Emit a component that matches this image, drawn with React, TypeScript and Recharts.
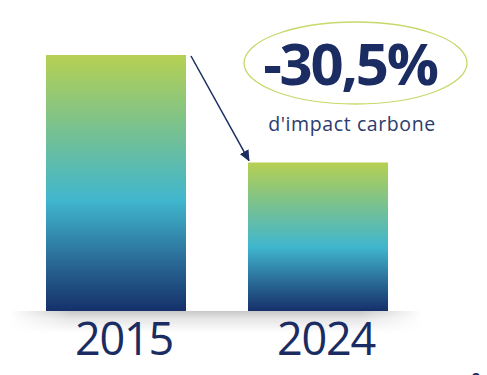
import React from 'react';
import { BarChart, Bar, XAxis, YAxis, ReferenceLine, Customized } from 'recharts';

const years = ['2015', '2024'];
const impact = [100, 58];
const reductionLabel = '-30,5%';
const subtitle = "d'impact carbone";

const data = years.map((y, i) => ({ year: y, value: impact[i] }));

const NAVY = '#1a2c62';
const BAR_SIZE = 140;

const Tick = (props: any) => {
  const { x, y, payload } = props;
  return (
    <text
      x={x + 8}
      y={y + 36}
      textAnchor="middle"
      fill={NAVY}
      fontFamily="'Open Sans', sans-serif"
      fontWeight={500}
      fontSize={45}
      letterSpacing={-1.2}
    >
      {payload.value}
    </text>
  );
};

const Arrow = (props: any) => {
  const { x1, y1, x2, y2 } = props;
  if ([x1, y1, x2, y2].some((v) => v === undefined || isNaN(v))) return null;
  const sx = x1 + BAR_SIZE / 2 + 5;
  const sy = y1 + 1;
  const ex = x2 - BAR_SIZE / 2 + 1;
  const ey = y2 - 2;
  return (
    <g>
      <defs>
        <marker id="arrowHead" markerWidth="11" markerHeight="10" refX="10" refY="5" orient="auto" markerUnits="userSpaceOnUse">
          <path d="M0,0 L11,5 L0,10 Z" fill={NAVY} />
        </marker>
      </defs>
      <line x1={sx} y1={sy} x2={ex} y2={ey} stroke={NAVY} strokeWidth={1.5} markerEnd="url(#arrowHead)" />
    </g>
  );
};

const Decor = () => (
  <g>
    <defs>
      <linearGradient id="shadowV" x1="0" y1="0" x2="0" y2="1">
        <stop offset="0" stopColor="#000" stopOpacity={0.22} />
        <stop offset="0.35" stopColor="#000" stopOpacity={0.1} />
        <stop offset="1" stopColor="#000" stopOpacity={0} />
      </linearGradient>
      <linearGradient id="shadowH" x1="0" y1="0" x2="1" y2="0">
        <stop offset="0" stopColor="#fff" stopOpacity={0} />
        <stop offset="0.15" stopColor="#fff" stopOpacity={1} />
        <stop offset="0.85" stopColor="#fff" stopOpacity={1} />
        <stop offset="1" stopColor="#fff" stopOpacity={0} />
      </linearGradient>
      <mask id="shadowMask">
        <rect x={10} y={311} width={412} height={22} fill="url(#shadowH)" />
      </mask>
    </defs>
    <rect x={10} y={311} width={412} height={22} fill="url(#shadowV)" mask="url(#shadowMask)" />
    <ellipse cx={355.5} cy={63} rx={111.5} ry={41} fill="none" stroke="#c6d96c" strokeWidth={1.3} />
    <text
      x={350}
      y={85}
      textAnchor="middle"
      fill={NAVY}
      fontFamily="'Open Sans', sans-serif"
      fontWeight={700}
      fontSize={58}
      letterSpacing={-2.2}
    >
      {reductionLabel}
    </text>
    <text
      x={352}
      y={131}
      textAnchor="middle"
      fill="#2b3b6e"
      fontFamily="'Open Sans', sans-serif"
      fontSize={19.5}
      letterSpacing={0.6}
    >
      {subtitle}
    </text>
    <text x={476} y={383} textAnchor="middle" fill={NAVY} fontFamily="'Open Sans', sans-serif" fontWeight={700} fontSize={14}>
      2
    </text>
  </g>
);

export default function App() {
  return (
    <div style={{ position: 'absolute', left: 0, top: 0, width: 487, height: 375, background: '#fff' }}>
      <BarChart width={487} height={375} data={data} margin={{ top: 55, right: 68, bottom: 0, left: 15 }}>
        <defs>
          <linearGradient id="barGrad" x1="0" y1="0" x2="0" y2="1">
            <stop offset="0" stopColor="#b6d052" />
            <stop offset="0.3" stopColor="#76c192" />
            <stop offset="0.57" stopColor="#40b6ce" />
            <stop offset="0.8" stopColor="#2a6c98" />
            <stop offset="1" stopColor="#15306a" />
          </linearGradient>
        </defs>
        <Customized component={Decor} />
        <XAxis dataKey="year" height={64} axisLine={false} tickLine={false} tick={<Tick />} interval={0} />
        <YAxis hide domain={[0, 100]} />
        <Bar dataKey="value" fill="url(#barGrad)" barSize={BAR_SIZE} isAnimationActive={false} />
        <ReferenceLine
          segment={[{ x: years[0], y: impact[0] }, { x: years[1], y: impact[1] }]}
          shape={<Arrow />}
          ifOverflow="visible"
        />
      </BarChart>
    </div>
  );
}
